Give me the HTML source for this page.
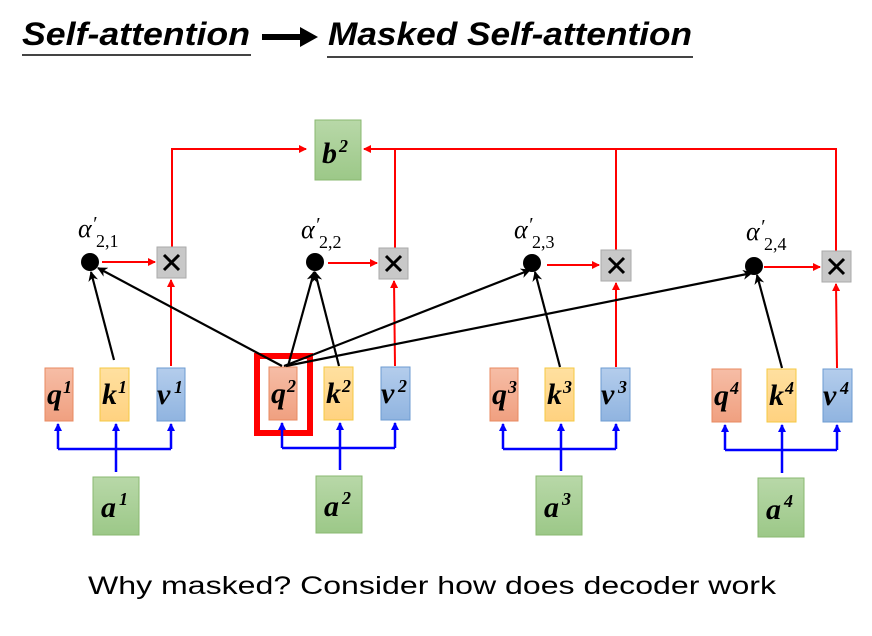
<!DOCTYPE html>
<html><head><style>
body{margin:0;background:#fff;}
svg{display:block;}
.t{font-family:"Liberation Sans",sans-serif;}
.v{font-family:"Liberation Serif",serif;font-weight:bold;font-style:italic;}
.al{font-family:"Liberation Serif",serif;font-style:italic;}
</style></head><body>
<svg width="872" height="636" viewBox="0 0 872 636" xmlns="http://www.w3.org/2000/svg">
<defs>
<marker id="ar" markerWidth="8" markerHeight="8" refX="7" refY="4" orient="auto" markerUnits="userSpaceOnUse"><path d="M0,0 L8,4 L0,8 z" fill="#f00"/></marker>
<marker id="ab" markerWidth="8" markerHeight="8" refX="7" refY="4" orient="auto" markerUnits="userSpaceOnUse"><path d="M0,0 L8,4 L0,8 z" fill="#00f"/></marker>
<marker id="ak" markerWidth="10" markerHeight="10" refX="9" refY="5" orient="auto" markerUnits="userSpaceOnUse"><path d="M0,0 L10,5 L0,10 L3,5 z" fill="#000"/></marker>
<linearGradient id="gq" x1="0" y1="0" x2="0" y2="1"><stop offset="0" stop-color="#f6bda6"/><stop offset="1" stop-color="#f0a080"/></linearGradient>
<linearGradient id="gk" x1="0" y1="0" x2="0" y2="1"><stop offset="0" stop-color="#ffe0a0"/><stop offset="1" stop-color="#ffd280"/></linearGradient>
<linearGradient id="gv" x1="0" y1="0" x2="0" y2="1"><stop offset="0" stop-color="#b4cdec"/><stop offset="1" stop-color="#90b4e0"/></linearGradient>
<linearGradient id="gg" x1="0" y1="0" x2="0" y2="1"><stop offset="0" stop-color="#b8d8a8"/><stop offset="1" stop-color="#9cc888"/></linearGradient>
</defs>

<text x="22" y="45" class="t" font-size="32" font-weight="bold" font-style="italic" textLength="228" lengthAdjust="spacingAndGlyphs">Self-attention</text>
<line x1="22" y1="55" x2="251" y2="55" stroke="#444" stroke-width="2"/>
<path d="M262,34 L300,34 L300,27 L318,37 L300,47 L300,40 L262,40 z" fill="#000"/>
<text x="328" y="45" class="t" font-size="32" font-weight="bold" font-style="italic" textLength="364" lengthAdjust="spacingAndGlyphs">Masked Self-attention</text>
<line x1="327" y1="57" x2="693" y2="57" stroke="#444" stroke-width="2"/>

<rect x="315" y="120" width="46" height="60" fill="url(#gg)" stroke="#8ab870"/>
<text x="322" y="163" class="v" font-size="30">b</text><text x="339" y="152" class="v" font-size="18">2</text>

<g stroke="#f00" stroke-width="2" fill="none">
<path d="M172,247 L172,149 L306,149" marker-end="url(#ar)"/>
<path d="M836,251 L836,149 L364,149" marker-end="url(#ar)"/>
<line x1="395" y1="248" x2="395" y2="149"/>
<line x1="616" y1="250" x2="616" y2="149"/>
</g>

<g class="v">
<rect x="45" y="368" width="28" height="53" fill="url(#gq)" stroke="#e88a60"/>
<rect x="100" y="368" width="29" height="53" fill="url(#gk)" stroke="#f5c842"/>
<rect x="157" y="368" width="28" height="53" fill="url(#gv)" stroke="#6c9bd2"/>
<text x="47" y="404" font-size="30">q</text><text x="63" y="393" font-size="18">1</text>
<text x="102" y="404" font-size="30">k</text><text x="118" y="393" font-size="18">1</text>
<text x="157" y="404" font-size="30">v</text><text x="174" y="393" font-size="18">1</text>
<rect x="93" y="477" width="46" height="58" fill="url(#gg)" stroke="#8ab870"/>
<text x="101" y="517" font-size="30">a</text><text x="119" y="505" font-size="18">1</text>

<rect x="269" y="367" width="28" height="53" fill="url(#gq)" stroke="#e88a60"/>
<rect x="324" y="367" width="29" height="53" fill="url(#gk)" stroke="#f5c842"/>
<rect x="381" y="367" width="29" height="53" fill="url(#gv)" stroke="#6c9bd2"/>
<text x="271" y="403" font-size="30">q</text><text x="287" y="392" font-size="18">2</text>
<text x="326" y="403" font-size="30">k</text><text x="342" y="392" font-size="18">2</text>
<text x="381" y="403" font-size="30">v</text><text x="398" y="392" font-size="18">2</text>
<rect x="316" y="476" width="46" height="57" fill="url(#gg)" stroke="#8ab870"/>
<text x="324" y="516" font-size="30">a</text><text x="342" y="504" font-size="18">2</text>
<rect x="257" y="356" width="53" height="77" fill="none" stroke="#f00" stroke-width="6"/>

<rect x="490" y="368" width="28" height="53" fill="url(#gq)" stroke="#e88a60"/>
<rect x="545" y="368" width="29" height="53" fill="url(#gk)" stroke="#f5c842"/>
<rect x="601" y="368" width="29" height="53" fill="url(#gv)" stroke="#6c9bd2"/>
<text x="492" y="404" font-size="30">q</text><text x="508" y="393" font-size="18">3</text>
<text x="547" y="404" font-size="30">k</text><text x="563" y="393" font-size="18">3</text>
<text x="601" y="404" font-size="30">v</text><text x="618" y="393" font-size="18">3</text>
<rect x="536" y="476" width="46" height="59" fill="url(#gg)" stroke="#8ab870"/>
<text x="544" y="517" font-size="30">a</text><text x="562" y="505" font-size="18">3</text>

<rect x="712" y="369" width="29" height="53" fill="url(#gq)" stroke="#e88a60"/>
<rect x="767" y="369" width="29" height="53" fill="url(#gk)" stroke="#f5c842"/>
<rect x="823" y="369" width="29" height="53" fill="url(#gv)" stroke="#6c9bd2"/>
<text x="714" y="405" font-size="30">q</text><text x="730" y="394" font-size="18">4</text>
<text x="769" y="405" font-size="30">k</text><text x="785" y="394" font-size="18">4</text>
<text x="823" y="405" font-size="30">v</text><text x="840" y="394" font-size="18">4</text>
<rect x="758" y="478" width="46" height="59" fill="url(#gg)" stroke="#8ab870"/>
<text x="766" y="519" font-size="30">a</text><text x="784" y="507" font-size="18">4</text>
</g>

<g stroke="#00f" stroke-width="2.5" fill="none">
<line x1="116" y1="472" x2="116" y2="424" marker-end="url(#ab)"/>
<path d="M58,449 L171,449"/><line x1="58" y1="449" x2="58" y2="424" marker-end="url(#ab)"/><line x1="171" y1="449" x2="171" y2="424" marker-end="url(#ab)"/>
<line x1="340" y1="470" x2="340" y2="423" marker-end="url(#ab)"/>
<path d="M282,448 L395,448"/><line x1="282" y1="448" x2="282" y2="423" marker-end="url(#ab)"/><line x1="395" y1="448" x2="395" y2="423" marker-end="url(#ab)"/>
<line x1="561" y1="471" x2="561" y2="424" marker-end="url(#ab)"/>
<path d="M503,449 L616,449"/><line x1="503" y1="449" x2="503" y2="424" marker-end="url(#ab)"/><line x1="616" y1="449" x2="616" y2="424" marker-end="url(#ab)"/>
<line x1="782" y1="473" x2="782" y2="425" marker-end="url(#ab)"/>
<path d="M725,450 L837,450"/><line x1="725" y1="450" x2="725" y2="425" marker-end="url(#ab)"/><line x1="837" y1="450" x2="837" y2="425" marker-end="url(#ab)"/>
</g>

<g fill="#000">
<circle cx="90" cy="262" r="9"/><circle cx="315" cy="262" r="9"/><circle cx="532" cy="263" r="9"/><circle cx="754" cy="266" r="9"/>
</g>
<g fill="#c8c8c8" stroke="#aaa">
<rect x="157" y="247" width="29" height="31"/><rect x="379" y="248" width="29" height="31"/><rect x="601" y="250" width="30" height="31"/><rect x="822" y="251" width="29" height="31"/>
</g>
<g stroke="#000" stroke-width="3">
<path d="M164,255 L179,270 M179,255 L164,270"/>
<path d="M386,256 L401,271 M401,256 L386,271"/>
<path d="M609,258 L624,273 M624,258 L609,273"/>
<path d="M829,259 L844,274 M844,259 L829,274"/>
</g>
<g stroke="#f00" stroke-width="2" fill="none">
<line x1="102" y1="262" x2="155" y2="262" marker-end="url(#ar)"/>
<line x1="328" y1="263" x2="377" y2="263" marker-end="url(#ar)"/>
<line x1="547" y1="265" x2="599" y2="265" marker-end="url(#ar)"/>
<line x1="764" y1="267" x2="820" y2="267" marker-end="url(#ar)"/>
<line x1="171" y1="366" x2="171" y2="280" marker-end="url(#ar)"/>
<line x1="395" y1="366" x2="394" y2="281" marker-end="url(#ar)"/>
<line x1="616" y1="367" x2="616" y2="283" marker-end="url(#ar)"/>
<line x1="837" y1="368" x2="836" y2="284" marker-end="url(#ar)"/>
</g>

<g stroke="#000" stroke-width="2.2" fill="none">
<line x1="114" y1="360" x2="91" y2="272" marker-end="url(#ak)"/>
<line x1="282" y1="366" x2="98" y2="268" marker-end="url(#ak)"/>
<line x1="288" y1="366" x2="314" y2="272" marker-end="url(#ak)"/>
<line x1="339" y1="366" x2="315" y2="272" marker-end="url(#ak)"/>
<line x1="284" y1="366" x2="530" y2="270" marker-end="url(#ak)"/>
<line x1="286" y1="366" x2="752" y2="273" marker-end="url(#ak)"/>
<line x1="560" y1="367" x2="535" y2="272" marker-end="url(#ak)"/>
<line x1="782" y1="368" x2="757" y2="275" marker-end="url(#ak)"/>
</g>

<g class="al">
<text x="78" y="237" font-size="26">α</text><text x="92" y="230" font-size="20">′</text><text x="96" y="247" font-size="18" font-style="normal">2,1</text>
<text x="301" y="238" font-size="26">α</text><text x="315" y="231" font-size="20">′</text><text x="319" y="248" font-size="18" font-style="normal">2,2</text>
<text x="514" y="238" font-size="26">α</text><text x="528" y="231" font-size="20">′</text><text x="532" y="248" font-size="18" font-style="normal">2,3</text>
<text x="746" y="240" font-size="26">α</text><text x="760" y="233" font-size="20">′</text><text x="764" y="250" font-size="18" font-style="normal">2,4</text>
</g>

<text x="88" y="594" class="t" font-size="25" textLength="688" lengthAdjust="spacingAndGlyphs">Why masked?  Consider how does decoder work</text>
</svg>
</body></html>
